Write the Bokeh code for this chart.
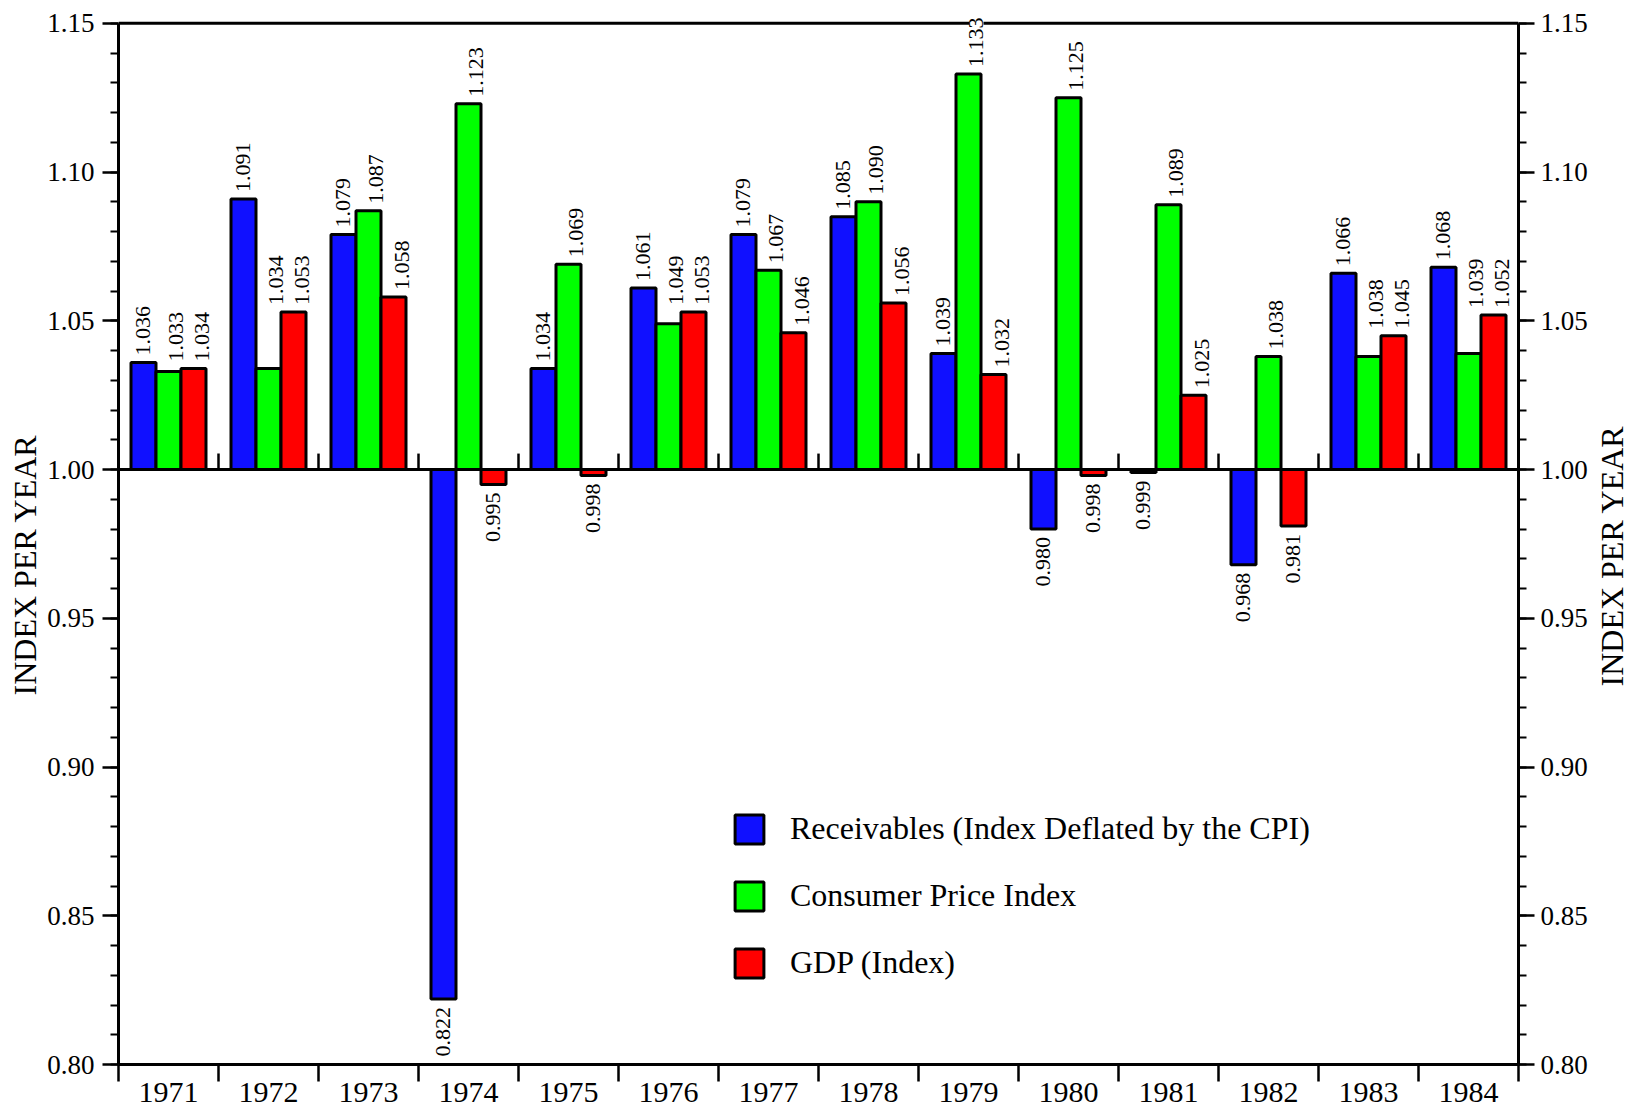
import numpy as np
from bokeh.plotting import figure
from bokeh.layouts import row
from bokeh.models import (ColumnDataSource, LabelSet, Legend, LegendItem, LinearAxis, Grid,
                          Range1d, FixedTicker, PrintfTickFormatter, Span)
from bokeh.core.properties import value
from bokeh.embed import file_html
from bokeh.resources import INLINE

# ---------------- data ----------------
years = ["1971", "1972", "1973", "1974", "1975", "1976", "1977",
         "1978", "1979", "1980", "1981", "1982", "1983", "1984"]
receivables = [1.036, 1.091, 1.079, 0.822, 1.034, 1.061, 1.079,
               1.085, 1.039, 0.980, 0.999, 0.968, 1.066, 1.068]
cpi = [1.033, 1.034, 1.087, 1.123, 1.069, 1.049, 1.067,
       1.090, 1.133, 1.125, 1.089, 1.038, 1.038, 1.039]
gdp = [1.034, 1.053, 1.058, 0.995, 0.998, 1.053, 1.046,
       1.056, 1.032, 0.998, 1.025, 0.981, 1.045, 1.052]
series_names = ["Receivables (Index Deflated by the CPI)", "Consumer Price Index", "GDP (Index)"]
axis_title = "INDEX PER YEAR"
baseline = 1.00
y_min, y_max = 0.80, 1.15
y_major_step = 0.05
y_minor_step = 0.01

# ---------------- style / layout ----------------
FONT = "Liberation Serif"
COLORS = ["#1010ff", "#00ff00", "#ff0000"]
OFFSETS = [-0.25, 0.0, 0.25]
BAR_W = 0.25
LABEL_DX = [0, 8, 9]
HEADROOM = 0.005           # space above the top border so value labels are not clipped
LEFT_TITLE_CENTER = 0.968  # vertical centre of the left axis title
RIGHT_TITLE_CENTER = 0.971  # vertical centre of the right axis title
H = 1115
TOP, BOTTOM = 8, 51
W_LEFT, W_MAIN, W_RIGHT = 44, 1546, 41

series = [receivables, cpi, gdp]
n = len(years)

major_ticks = [float(t) for t in np.round(np.arange(y_min, y_max + 1e-9, y_major_step), 2)]
minor_ticks = [float(t) for t in np.round(np.arange(y_min, y_max + 1e-9, y_minor_step), 2)]

yrange = Range1d(y_min, y_max + HEADROOM)

p = figure(width=W_MAIN, height=H,
           x_range=Range1d(-0.5, n - 0.5), y_range=yrange,
           x_axis_location=None, y_axis_location=None,
           output_backend="svg", toolbar_location=None,
           min_border_left=71, min_border_right=72, min_border_top=TOP, min_border_bottom=BOTTOM)
p.outline_line_color = None
p.background_fill_color = "white"
p.border_fill_color = "white"


def base_style(ax, fs="27px"):
    ax.axis_line_width = 3
    ax.axis_line_color = "black"
    ax.major_tick_line_color = "black"
    ax.minor_tick_line_color = "black"
    ax.major_tick_line_width = 2.5
    ax.minor_tick_line_width = 2
    ax.major_label_text_font = FONT
    ax.major_label_text_font_size = fs
    ax.major_label_text_color = "black"


def y_axis(label_standoff):
    ax = LinearAxis(ticker=FixedTicker(ticks=major_ticks, minor_ticks=minor_ticks),
                    formatter=PrintfTickFormatter(format="%.2f"),
                    bounds=(y_min, y_max))
    base_style(ax)
    ax.major_tick_out = 16
    ax.major_tick_in = 0
    ax.minor_tick_out = 8
    ax.minor_tick_in = 0
    ax.major_label_standoff = label_standoff
    return ax


p.add_layout(y_axis(8), "left")
p.add_layout(y_axis(6), "right")

# bottom axis: labels at category centres, ticks at boundaries
xb = LinearAxis(ticker=FixedTicker(ticks=list(range(n)),
                                   minor_ticks=[i - 0.5 for i in range(n + 1)]),
                major_label_overrides={i: yv for i, yv in enumerate(years)})
base_style(xb, "30px")
xb.major_tick_out = 17
xb.major_tick_in = 0
xb.major_tick_line_color = None
xb.minor_tick_out = 17
xb.minor_tick_in = 0
xb.minor_tick_line_width = 2.5
xb.major_label_standoff = 1
p.add_layout(xb, "below")

# bars
renderers = []
for j, vals in enumerate(series):
    src = ColumnDataSource(dict(x=np.arange(n) + OFFSETS[j], top=vals, bottom=[baseline] * n))
    r = p.vbar(x="x", top="top", bottom="bottom", width=BAR_W, source=src,
               fill_color=COLORS[j], line_color="black", line_width=3)
    renderers.append(r)

# top border and baseline
p.add_layout(Span(location=y_max, dimension="width", line_color="black", line_width=3))
p.add_layout(Span(location=baseline, dimension="width", line_color="black", line_width=3))
p.ray(x=[i + 0.5 for i in range(n - 1)], y=[baseline] * (n - 1), length=16, length_units="screen",
      angle=90, angle_units="deg", line_color="black", line_width=2.5)

# value labels
pos = dict(x=[], y=[], text=[], xo=[])
neg = dict(x=[], y=[], text=[], xo=[])
for j, vals in enumerate(series):
    for i, v in enumerate(vals):
        xc = i + OFFSETS[j]
        if v >= baseline:
            ly = v
            if LABEL_DX[j] > 0 and j + 1 < len(series) and series[j + 1][i] > v:
                ly = series[j + 1][i]
            pos["x"].append(xc); pos["y"].append(ly)
            pos["text"].append(f"{v:.3f}"); pos["xo"].append(LABEL_DX[j])
        else:
            neg["x"].append(xc); neg["y"].append(v)
            neg["text"].append(f"{v:.3f}"); neg["xo"].append(0)

ls_pos = LabelSet(x="x", y="y", text="text", x_offset="xo", y_offset=7,
                  source=ColumnDataSource(pos), angle=90, angle_units="deg",
                  text_align="left", text_baseline="middle", text_font=FONT,
                  text_font_size="22px", text_color="black",
                  background_fill_color="white", level="overlay")
ls_neg = LabelSet(x="x", y="y", text="text", x_offset="xo", y_offset=-8,
                  source=ColumnDataSource(neg), angle=90, angle_units="deg",
                  text_align="right", text_baseline="middle", text_font=FONT,
                  text_font_size="22px", text_color="black", level="overlay")
p.add_layout(ls_pos)
p.add_layout(ls_neg)

# legend
legend = Legend(items=[LegendItem(label=series_names[j], renderers=[renderers[j]]) for j in range(3)],
                location=(613, 83), orientation="vertical",
                glyph_width=36, glyph_height=36, label_height=36, spacing=30,
                label_standoff=23, padding=0, margin=0,
                border_line_color=None, background_fill_alpha=0,
                label_text_font=FONT, label_text_font_size="32px", label_text_color="black")
p.add_layout(legend)
p.center = [c for c in p.center if not isinstance(c, Grid)]


# narrow side figures holding the axis titles (both read bottom-to-top)
def title_fig(width, center, x_offset):
    f = figure(width=width, height=H, x_range=Range1d(0, 1), y_range=yrange,
               x_axis_location=None, y_axis_location=None,
               output_backend="svg", toolbar_location=None,
               min_border_left=0, min_border_right=0, min_border_top=TOP, min_border_bottom=BOTTOM)
    f.outline_line_color = None
    f.background_fill_color = "white"
    f.border_fill_color = "white"
    f.text(x=[0.5], y=[center], text=[axis_title], angle=90, angle_units="deg",
           x_offset=x_offset, text_align="center", text_baseline="middle",
           text_font=value(FONT), text_font_size="32px", text_color="black")
    f.center = [c for c in f.center if not isinstance(c, Grid)]
    return f


left_title = title_fig(W_LEFT, LEFT_TITLE_CENTER, 2)
right_title = title_fig(W_RIGHT, RIGHT_TITLE_CENTER, 1)

layout = row(left_title, p, right_title, spacing=0)
open("out.html", "w").write(file_html(layout, INLINE))
